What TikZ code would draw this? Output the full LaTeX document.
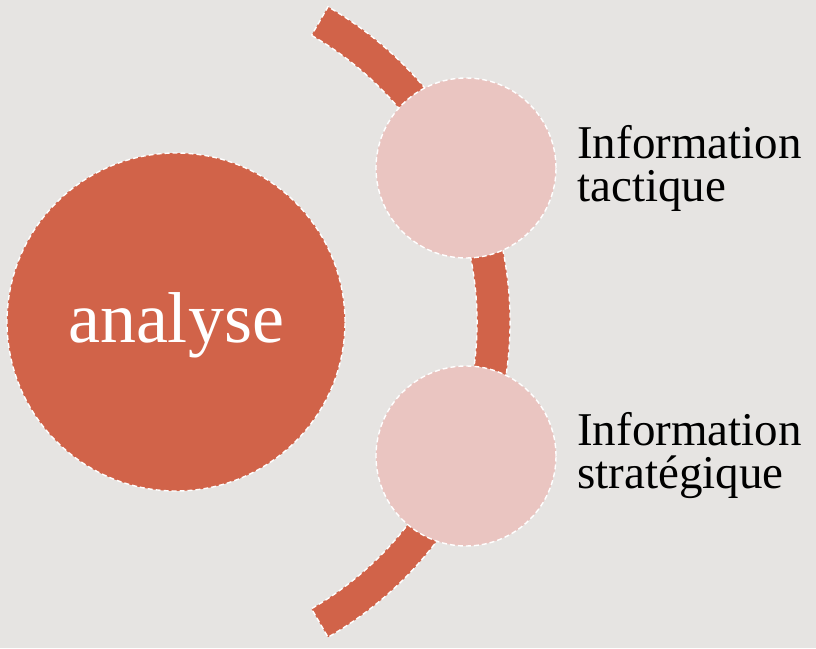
\documentclass[tikz,border=0pt]{standalone}
\usepackage{fontspec}
\setmainfont{Liberation Serif}
\definecolor{bgc}{RGB}{230,228,226}
\definecolor{rust}{RGB}{209,99,73}
\definecolor{blush}{RGB}{234,197,193}
\begin{document}
\begin{tikzpicture}[x=1pt,y=1pt,
  outl/.style={draw=white,line width=1.4pt,dash pattern=on 5pt off 3pt},
  lbl/.style={anchor=base west,inner sep=0pt,align=left,font=\fontsize{47}{43}\selectfont,text=black}]
\fill[bgc] (0,0) rectangle (816,648);
\useasboundingbox (0,0) rectangle (816,648);
\coordinate (c) at (146,326);
% arc band
\filldraw[fill=rust,outl] ([shift={(60:331)}]c) arc[start angle=60,end angle=-60,radius=331]
  -- ([shift={(-60:364)}]c) arc[start angle=-60,end angle=60,radius=364] -- cycle;
% big circle
\node[circle,fill=rust,outl,minimum size=338pt,inner sep=0pt] (big) at (176,326) {};
\node[text=white,font=\fontsize{72}{80}\selectfont,inner sep=0pt,anchor=base] (ana) at (176,305) {analyse};
% small circles
\node[circle,fill=blush,outl,minimum size=180pt,inner sep=0pt] (s1) at (466,480) {};
\node[circle,fill=blush,outl,minimum size=180pt,inner sep=0pt] (s2) at (466,192) {};
\node[lbl] (t1) at (577,446) {Information\\tactique};
\node[lbl] (t2) at (577,160) {Information\\stratégique};
\end{tikzpicture}
\end{document}
